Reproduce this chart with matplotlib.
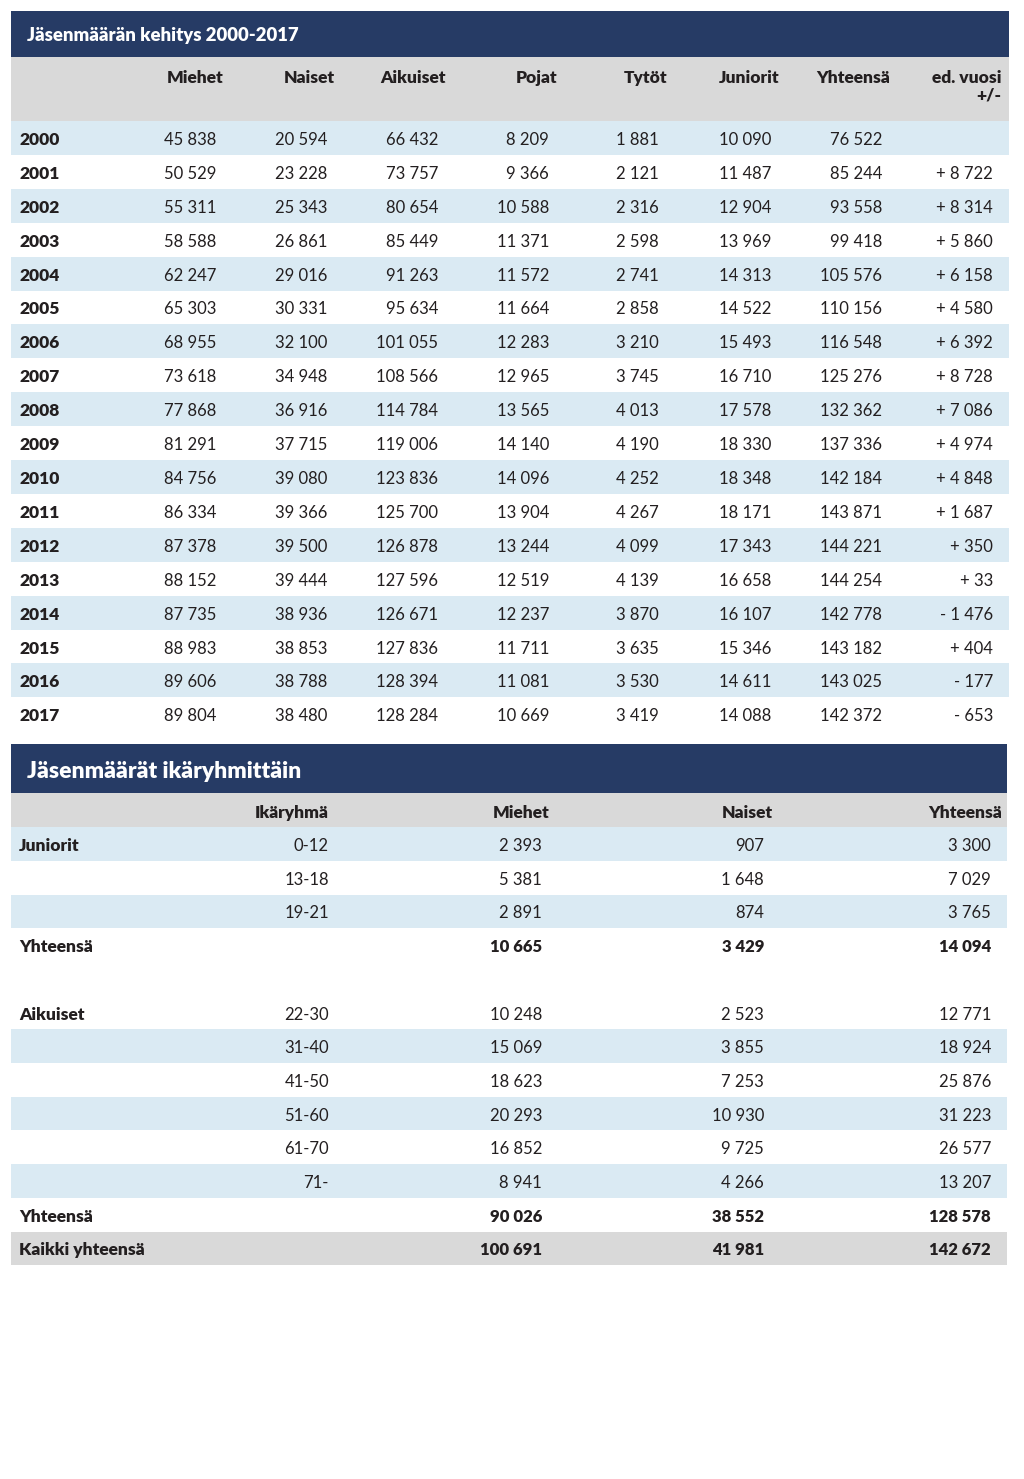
import matplotlib.pyplot as plt
from matplotlib.patches import Rectangle

plt.rcParams['font.family'] = ['Lato', 'DejaVu Sans']

# --- Taulukko 1: Jäsenmäärän kehitys 2000-2017 ---
title1 = "Jäsenmäärän kehitys 2000-2017"
columns1 = ["Miehet", "Naiset", "Aikuiset", "Pojat", "Tytöt", "Juniorit", "Yhteensä", "ed. vuosi\n+/-"]
years = [2000, 2001, 2002, 2003, 2004, 2005, 2006, 2007, 2008,
         2009, 2010, 2011, 2012, 2013, 2014, 2015, 2016, 2017]
miehet = [45838, 50529, 55311, 58588, 62247, 65303, 68955, 73618, 77868,
          81291, 84756, 86334, 87378, 88152, 87735, 88983, 89606, 89804]
naiset = [20594, 23228, 25343, 26861, 29016, 30331, 32100, 34948, 36916,
          37715, 39080, 39366, 39500, 39444, 38936, 38853, 38788, 38480]
aikuiset = [66432, 73757, 80654, 85449, 91263, 95634, 101055, 108566, 114784,
            119006, 123836, 125700, 126878, 127596, 126671, 127836, 128394, 128284]
pojat = [8209, 9366, 10588, 11371, 11572, 11664, 12283, 12965, 13565,
         14140, 14096, 13904, 13244, 12519, 12237, 11711, 11081, 10669]
tytot = [1881, 2121, 2316, 2598, 2741, 2858, 3210, 3745, 4013,
         4190, 4252, 4267, 4099, 4139, 3870, 3635, 3530, 3419]
juniorit = [10090, 11487, 12904, 13969, 14313, 14522, 15493, 16710, 17578,
            18330, 18348, 18171, 17343, 16658, 16107, 15346, 14611, 14088]
yhteensa = [76522, 85244, 93558, 99418, 105576, 110156, 116548, 125276, 132362,
            137336, 142184, 143871, 144221, 144254, 142778, 143182, 143025, 142372]
muutos = [None, 8722, 8314, 5860, 6158, 4580, 6392, 8728, 7086,
          4974, 4848, 1687, 350, 33, -1476, 404, -177, -653]

# --- Taulukko 2: Jäsenmäärät ikäryhmittäin ---
title2 = "Jäsenmäärät ikäryhmittäin"
columns2 = ["Ikäryhmä", "Miehet", "Naiset", "Yhteensä"]
jun_ages = ["0-12", "13-18", "19-21"]
jun_m = [2393, 5381, 2891]
jun_n = [907, 1648, 874]
jun_y = [3300, 7029, 3765]
jun_total = [10665, 3429, 14094]
aik_ages = ["22-30", "31-40", "41-50", "51-60", "61-70", "71-"]
aik_m = [10248, 15069, 18623, 20293, 16852, 8941]
aik_n = [2523, 3855, 7253, 10930, 9725, 4266]
aik_y = [12771, 18924, 25876, 31223, 26577, 13207]
aik_total = [90026, 38552, 128578]
all_total = [100691, 41981, 142672]

NAVY = "#263b65"
GRAY = "#d9d9d9"
BLUE = "#daeaf3"
INK = "#231f20"
BOLD = "heavy"


def fmt(v):
    return f"{v:,}".replace(",", " ")


def fmt_diff(v):
    if v is None:
        return ""
    sign = "+" if v >= 0 else "-"
    return sign + " " + fmt(abs(v))


fig = plt.figure(figsize=(10.24, 14.79), dpi=100)
ax = fig.add_axes([0, 0, 1, 1])
ax.set_xlim(0, 1024)
ax.set_ylim(1479, 0)
ax.axis("off")


def band(y0, y1, color, x0=11, x1=1009):
    ax.add_patch(Rectangle((x0, y0), x1 - x0, y1 - y0, color=color, lw=0))


# ---------------------------
# Taulukko 1
# ---------------------------
band(11, 57, NAVY)
ax.text(27, 36, title1, color="white", fontsize=13.3, fontweight=BOLD, va="center")
band(57, 121, GRAY)

right1 = [216, 327, 438, 549, 659, 771, 882, 993]
for x, name in zip(right1, columns1):
    ax.text(x + 8, 70, name, ha="right", va="top", fontsize=12.5, fontweight=BOLD,
            color=INK, linespacing=1.15)

row_h = 33.9
for i, yr in enumerate(years):
    yc = 138 + i * row_h
    if i % 2 == 0:
        band(yc - row_h / 2, yc + row_h / 2, BLUE)
    ax.text(19, yc + 2, str(yr), va="center", fontsize=12.5, fontweight=BOLD, color=INK)
    vals = [fmt(miehet[i]), fmt(naiset[i]), fmt(aikuiset[i]), fmt(pojat[i]),
            fmt(tytot[i]), fmt(juniorit[i]), fmt(yhteensa[i]), fmt_diff(muutos[i])]
    for x, s in zip(right1, vals):
        ax.text(x, yc + 2, s, ha="right", va="center", fontsize=12, color=INK)

# ---------------------------
# Taulukko 2
# ---------------------------
band(744, 793, NAVY, x1=1007)
ax.text(27, 771, title2, color="white", fontsize=16.5, fontweight=BOLD, va="center")
band(793, 827, GRAY, x1=1007)

head_right2 = [329, 549, 773, 1002]
data_right2 = [329, 542, 764, 991]
for x, name in zip(head_right2, columns2):
    ax.text(x, 813, name, ha="right", va="center", fontsize=12.5, fontweight=BOLD, color=INK)

# rivit: (vasen nimi, ikä, arvot, lihavointi, tausta)
rows2 = []
for k in range(len(jun_ages)):
    rows2.append(("Juniorit" if k == 0 else "", jun_ages[k],
                  [jun_m[k], jun_n[k], jun_y[k]], False, BLUE if k % 2 == 0 else None))
rows2.append(("Yhteensä", "", jun_total, True, None))
rows2.append(("", "", None, False, None))
for k in range(len(aik_ages)):
    rows2.append(("Aikuiset" if k == 0 else "", aik_ages[k],
                  [aik_m[k], aik_n[k], aik_y[k]], False, BLUE if k % 2 == 1 else None))
rows2.append(("Yhteensä", "", aik_total, True, None))
rows2.append(("Kaikki yhteensä", "", all_total, True, GRAY))

row_h2 = 33.7
for i, (name, age, vals, bold, bg) in enumerate(rows2):
    yc = 844 + i * row_h2
    if bg:
        band(yc - row_h2 / 2, yc + row_h2 / 2, bg, x1=1007)
    if name:
        ax.text(19, yc + 2, name, va="center", fontsize=12.5, fontweight=BOLD, color=INK)
    if age:
        ax.text(data_right2[0], yc + 2, age, ha="right", va="center", fontsize=12, color=INK)
    if vals:
        for x, v in zip(data_right2[1:], vals):
            ax.text(x, yc + 2, fmt(v), ha="right", va="center", fontsize=12,
                    fontweight=BOLD if bold else "normal", color=INK)

fig.savefig("out.png", dpi=100)
